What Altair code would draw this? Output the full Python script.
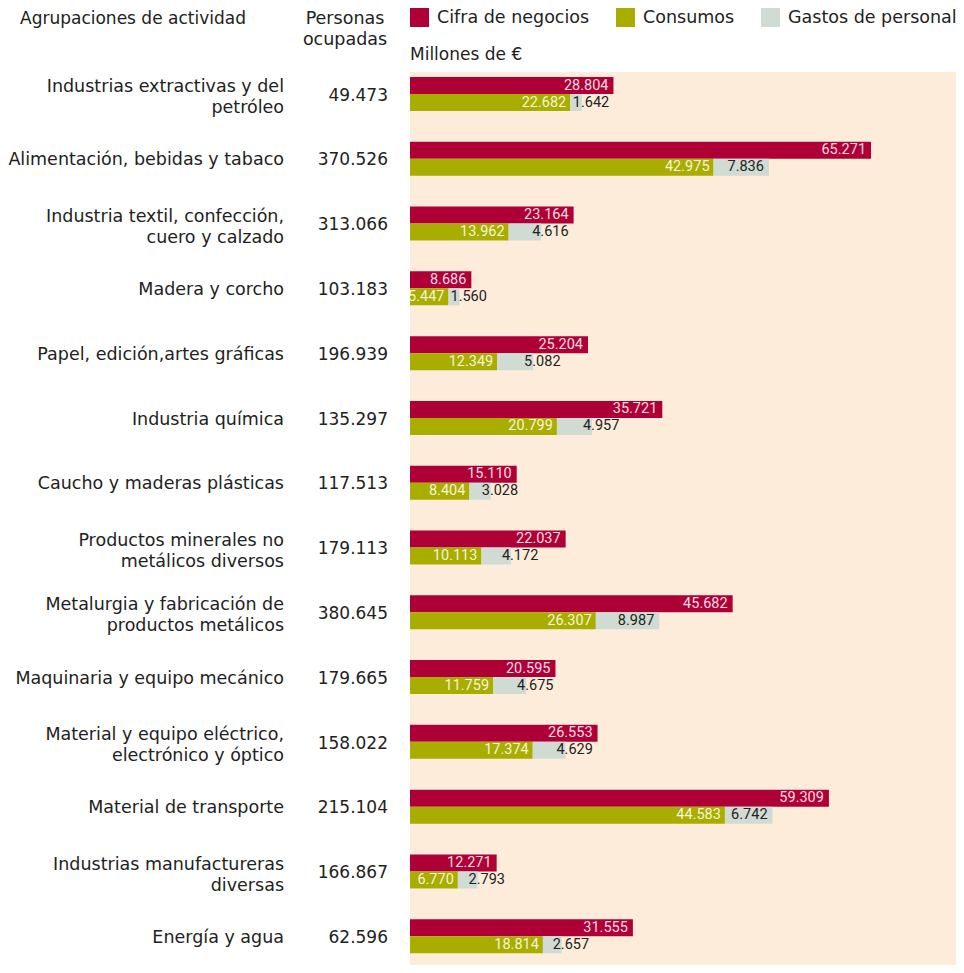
import altair as alt
import pandas as pd

# ---------------- data ----------------
categorias = [
    "Industrias extractivas y del\npetróleo",
    "Alimentación, bebidas y tabaco",
    "Industria textil, confección,\ncuero y calzado",
    "Madera y corcho",
    "Papel, edición,artes gráficas",
    "Industria química",
    "Caucho y maderas plásticas",
    "Productos minerales no\nmetálicos diversos",
    "Metalurgia y fabricación de\nproductos metálicos",
    "Maquinaria y equipo mecánico",
    "Material y equipo eléctrico,\nelectrónico y óptico",
    "Material de transporte",
    "Industrias manufactureras\ndiversas",
    "Energía y agua",
]
personas = [49473, 370526, 313066, 103183, 196939, 135297, 117513,
            179113, 380645, 179665, 158022, 215104, 166867, 62596]
cifra_negocios = [28804, 65271, 23164, 8686, 25204, 35721, 15110,
                  22037, 45682, 20595, 26553, 59309, 12271, 31555]
consumos = [22682, 42975, 13962, 5447, 12349, 20799, 8404,
            10113, 26307, 11759, 17374, 44583, 6770, 18814]
gastos_personal = [1642, 7836, 4616, 1560, 5082, 4957, 3028,
                   4172, 8987, 4675, 4629, 6742, 2793, 2657]

series = ["Cifra de negocios", "Consumos", "Gastos de personal"]
colores = ["#AE0036", "#A8AD00", "#D0DBD3"]
titulo_grupos = "Agrupaciones de actividad"
titulo_personas = "Personas\nocupadas"
unidad = "Millones de €"


def fmt(v):
    return f"{v:,}".replace(",", ".")


# ---------------- tables ----------------
rows = []
for i, cat in enumerate(categorias):
    rows.append(dict(cat=cat, serie=series[0], fila="Cifra", ini=0,
                     fin=cifra_negocios[i], lab=fmt(cifra_negocios[i]), dentro=True))
    rows.append(dict(cat=cat, serie=series[1], fila="Resto", ini=0,
                     fin=consumos[i], lab=fmt(consumos[i]), dentro=True))
    rows.append(dict(cat=cat, serie=series[2], fila="Resto", ini=consumos[i],
                     fin=consumos[i] + gastos_personal[i], lab=fmt(gastos_personal[i]),
                     dentro=gastos_personal[i] >= 6000))
barras = pd.DataFrame(rows)

etiquetas = pd.DataFrame({
    "cat": categorias,
    "pers": [fmt(p) for p in personas],
    "multi": ["\n" in c for c in categorias],
})

FONT = "DejaVu Sans"
NUMFONT = "Roboto"
TXT = "#222222"

BAND_RANGE = [0, 907]

y_enc = alt.Y("cat:N", sort=categorias, axis=None,
              scale=alt.Scale(paddingInner=0, paddingOuter=0, range=BAND_RANGE))
yoff_enc = alt.YOffset("fila:N", sort=["Cifra", "Resto"],
                       scale=alt.Scale(paddingInner=0, paddingOuter=0.905, align=0.1625))
x_scale = alt.Scale(domain=[0, 77300], nice=False, zero=True)

base = alt.Chart(barras)

bars = base.mark_bar(cornerRadius=0).encode(
    x=alt.X("ini:Q", scale=x_scale, axis=None),
    x2="fin:Q",
    y=y_enc,
    yOffset=yoff_enc,
    color=alt.Color(
        "serie:N",
        scale=alt.Scale(domain=series, range=colores),
        legend=alt.Legend(
            orient="none", legendX=0, legendY=-64, direction="horizontal",
            title=None, symbolType="square", symbolSize=361, symbolStrokeWidth=0,
            symbolOpacity=1, labelFontSize=17.5, labelFont=FONT, labelColor=TXT,
            labelOffset=8, columnPadding=26, padding=0, columns=3,
            labelLimit=400,
        ),
    ),
)

txt_enc = dict(x=alt.X("fin:Q", scale=x_scale, axis=None), y=y_enc, yOffset=yoff_enc, text="lab:N")

lab_cifra = base.transform_filter(alt.datum.serie == series[0]).mark_text(
    align="right", baseline="middle", dx=-5, font=NUMFONT, fontSize=14.5, color="#F6DCE3"
).encode(**txt_enc)

lab_cons = base.transform_filter(alt.datum.serie == series[1]).mark_text(
    align="right", baseline="middle", dx=-4, font=NUMFONT, fontSize=14.5, color="#F4F4D8"
).encode(**txt_enc)

lab_gas_in = base.transform_filter(
    (alt.datum.serie == series[2]) & alt.datum.dentro
).mark_text(
    align="right", baseline="middle", dx=-5, font=NUMFONT, fontSize=14.5, color=TXT
).encode(**txt_enc)

lab_gas_out = base.transform_filter(
    (alt.datum.serie == series[2]) & (~alt.datum.dentro)
).mark_text(
    align="left", baseline="middle", dx=-9, font=NUMFONT, fontSize=14.5, color=TXT
).encode(**txt_enc)

y_lab = alt.Y("cat:N", sort=categorias, axis=None, bandPosition=0.366,
              scale=alt.Scale(paddingInner=0, paddingOuter=0, range=BAND_RANGE))

lab_base = alt.Chart(etiquetas)

cat_single = lab_base.transform_filter(~alt.datum.multi).mark_text(
    align="right", baseline="middle", font=FONT, fontSize=17.5, color=TXT,
).encode(x=alt.value(-126), y=y_lab, text="cat:N")

cat_multi = lab_base.transform_filter(alt.datum.multi).mark_text(
    align="right", baseline="middle", font=FONT, fontSize=17.5, color=TXT,
    lineBreak="\n", lineHeight=21, dy=-8.5,
).encode(x=alt.value(-126), y=y_lab, text="cat:N")

pers_labels = lab_base.mark_text(
    align="right", baseline="middle", font=FONT, fontSize=17, color=TXT,
).encode(x=alt.value(-22), y=y_lab, text="pers:N")

head_df = pd.DataFrame({"g": [titulo_grupos], "p": [titulo_personas], "u": [unidad]})
head = alt.Chart(head_df)
h1 = head.mark_text(align="left", baseline="alphabetic", font=FONT, fontSize=17, color=TXT).encode(
    x=alt.value(-390), y=alt.value(-48), text="g:N")
h2 = head.mark_text(align="center", baseline="alphabetic", font=FONT, fontSize=17.5, color=TXT,
                    lineBreak="\n", lineHeight=21).encode(
    x=alt.value(-65), y=alt.value(-48), text="p:N")
h3 = head.mark_text(align="left", baseline="alphabetic", font=FONT, fontSize=17, color=TXT).encode(
    x=alt.value(0), y=alt.value(-12), text="u:N")

chart = alt.layer(
    bars, lab_cifra, lab_cons, lab_gas_in, lab_gas_out,
    cat_single, cat_multi, pers_labels, h1, h2, h3
).properties(
    width=546,
    height=893,
    autosize=alt.AutoSizeParams(type="none"),
    padding={"left": 402, "top": 64, "right": 0, "bottom": 0},
).configure(
    background="white",
    view=alt.ViewConfig(fill="#FDECDA", stroke=None),
)

chart.save("out.html", embed_options={"renderer": "svg", "actions": False})
